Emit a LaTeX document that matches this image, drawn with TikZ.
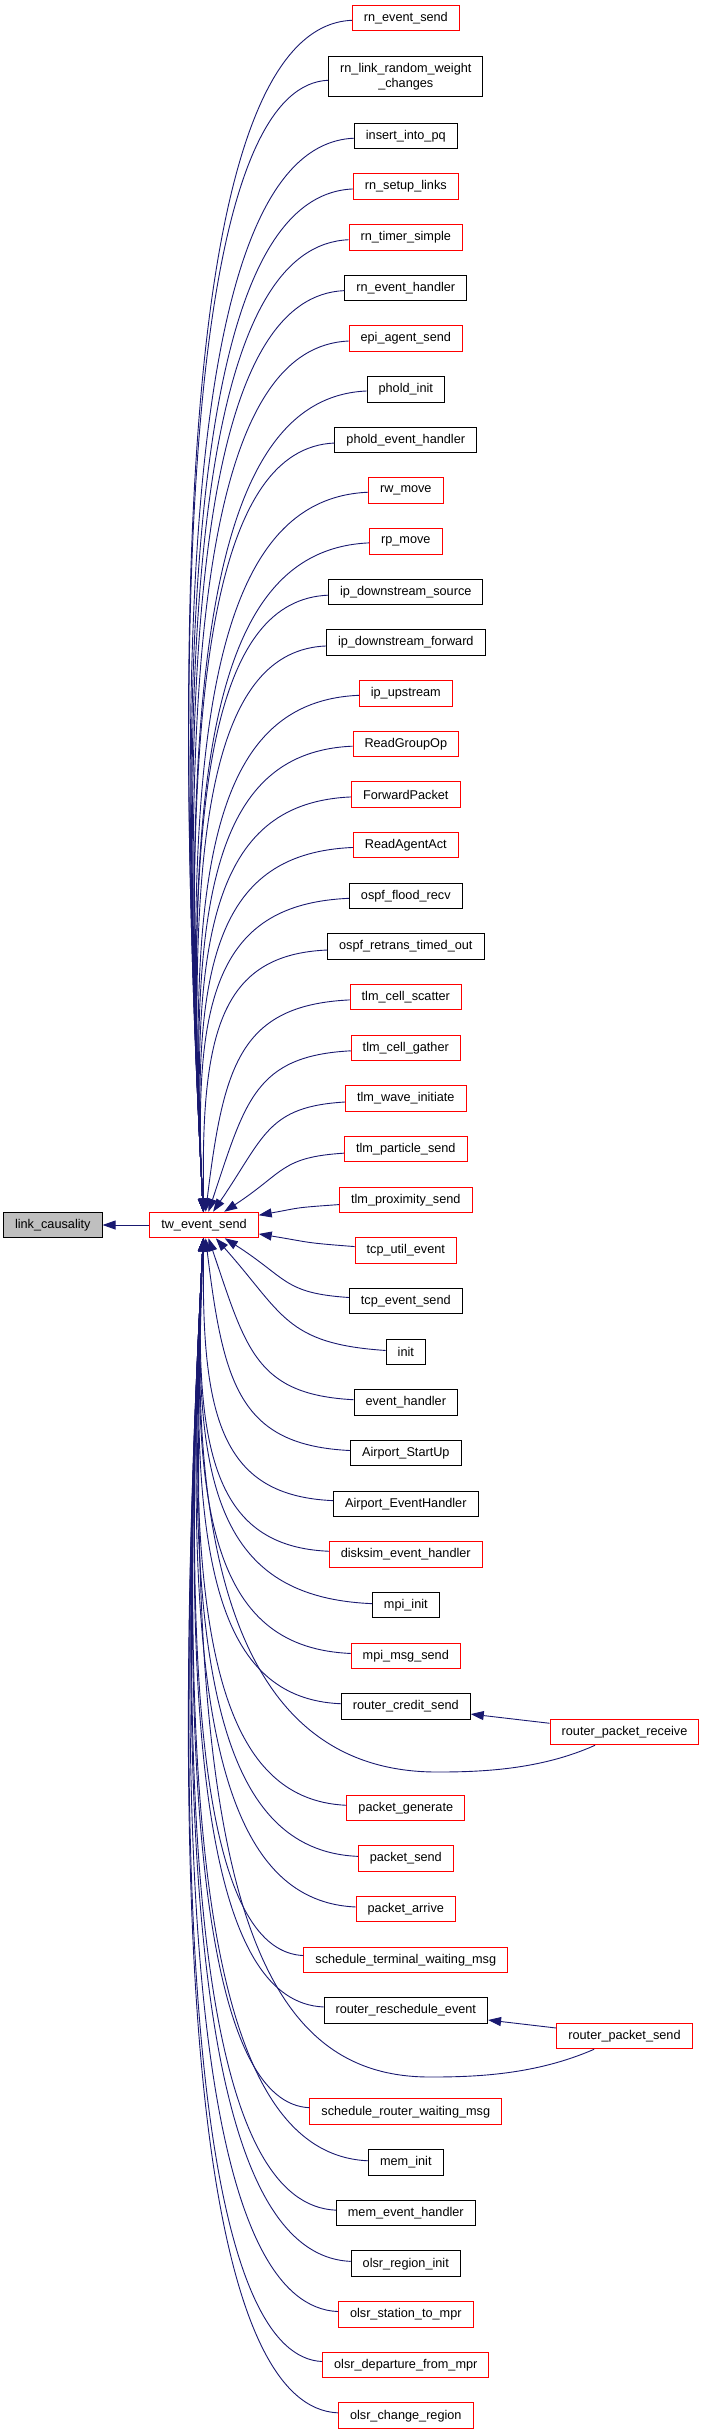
\documentclass[tikz,border=0pt]{standalone}
\usepackage{fontspec}
\setmainfont{Liberation Sans}
\usetikzlibrary{arrows.meta,calc}
\definecolor{edgeblue}{HTML}{191970}
\definecolor{boxred}{HTML}{FF0000}
\definecolor{boxgray}{HTML}{BFBFBF}
% caller -> tw_event_send, bent into the bundle above/below it
\newcommand{\callfan}[1]{%
  \draw[callarrow] let \p1=(#1.west), \p2=(tw.center),
    \n1={abs(\y1-\y2)}, \n2={sign(\y2-\y1)},
    \n3={0.3+0.6*min(1,\n1/300)}, \n4={0.8*max(0,1-\n1/300)},
    \n5={45*min(1,\n1/1200)} in
    (#1) .. controls ({\x1-\n3*(\x1-\x2)},{\y1+8*(\n2)})
    and ({\x2-\n5+\n4*(\x1-\x2)},{\y2-0.7*(\n2)*\n1}) .. (tw);}

\begin{document}
\begin{tikzpicture}[x=1pt,y=1pt,
  fn/.style={draw=black,line width=1pt,minimum height=25.5pt,inner xsep=11.5pt,
    inner ysep=2pt,font=\fontsize{12.7}{15}\selectfont},
  fnred/.style={fn,draw=boxred},
  callarrow/.style={draw=edgeblue,line width=0.9pt,-{Triangle[length=13pt,width=9pt]}}]
\useasboundingbox (0,0) rectangle (701,-2435);

\node[fn,fill=boxgray] (link) at (52.8,-1225) {link\_causality};
\node[fnred] (tw) at (204,-1225) {tw\_event\_send};

% callers of tw_event_send
\node[fnred] (rnsend) at (405.8,-18) {rn\_event\_send};
\node[fn,align=center,minimum height=40pt] (rnlink) at (405.8,-77) {rn\_link\_random\_weight\\\_changes};
\node[fn] (pq) at (405.8,-136) {insert\_into\_pq};
\node[fnred] (rnsetup) at (405.8,-186.7) {rn\_setup\_links};
\node[fnred] (rntimer) at (405.8,-237.3) {rn\_timer\_simple};
\node[fn] (rnhandler) at (405.8,-288) {rn\_event\_handler};
\node[fnred] (episend) at (405.8,-338.6) {epi\_agent\_send};
\node[fn] (pholdinit) at (405.8,-389.3) {phold\_init};
\node[fn] (pholdhandler) at (405.8,-440) {phold\_event\_handler};
\node[fnred] (rwmove) at (405.8,-490.6) {rw\_move};
\node[fnred] (rpmove) at (405.8,-541.3) {rp\_move};
\node[fn] (ipsource) at (405.8,-591.9) {ip\_downstream\_source};
\node[fn] (ipforward) at (405.8,-642.6) {ip\_downstream\_forward};
\node[fnred] (ipup) at (405.8,-693.3) {ip\_upstream};
\node[fnred] (readgroup) at (405.8,-743.9) {ReadGroupOp};
\node[fnred] (fwdpacket) at (405.8,-794.6) {ForwardPacket};
\node[fnred] (readagent) at (405.8,-845.2) {ReadAgentAct};
\node[fn] (ospfflood) at (405.8,-895.9) {ospf\_flood\_recv};
\node[fn] (ospfretrans) at (405.8,-946.6) {ospf\_retrans\_timed\_out};
\node[fnred] (tlmscatter) at (405.8,-997.2) {tlm\_cell\_scatter};
\node[fnred] (tlmgather) at (405.8,-1047.9) {tlm\_cell\_gather};
\node[fnred] (tlmwave) at (405.8,-1098.5) {tlm\_wave\_initiate};
\node[fnred] (tlmparticle) at (405.8,-1149.2) {tlm\_particle\_send};
\node[fnred] (tlmprox) at (405.8,-1199.9) {tlm\_proximity\_send};
\node[fnred] (tcputil) at (405.8,-1250.5) {tcp\_util\_event};
\node[fn] (tcpsend) at (405.8,-1301.2) {tcp\_event\_send};
\node[fn] (init) at (405.8,-1351.8) {init};
\node[fn] (evhandler) at (405.8,-1402.5) {event\_handler};
\node[fn] (airstart) at (405.8,-1453.2) {Airport\_StartUp};
\node[fn] (airhandler) at (405.8,-1503.8) {Airport\_EventHandler};
\node[fnred] (disksim) at (405.8,-1554.5) {disksim\_event\_handler};
\node[fn] (mpiinit) at (405.8,-1605.1) {mpi\_init};
\node[fnred] (mpimsg) at (405.8,-1655.8) {mpi\_msg\_send};
\node[fn] (credit) at (405.8,-1706.5) {router\_credit\_send};
\node[fnred] (pktgen) at (405.8,-1807.8) {packet\_generate};
\node[fnred] (pktsend) at (405.8,-1858.4) {packet\_send};
\node[fnred] (pktarrive) at (405.8,-1909.1) {packet\_arrive};
\node[fnred] (schedterm) at (405.8,-1959.8) {schedule\_terminal\_waiting\_msg};
\node[fn] (resched) at (405.8,-2010.4) {router\_reschedule\_event};
\node[fnred] (schedrouter) at (405.8,-2111.7) {schedule\_router\_waiting\_msg};
\node[fn] (meminit) at (405.8,-2162.4) {mem\_init};
\node[fn] (memhandler) at (405.8,-2213.1) {mem\_event\_handler};
\node[fn] (olsrinit) at (405.8,-2263.7) {olsr\_region\_init};
\node[fnred] (olsrstation) at (405.8,-2314.4) {olsr\_station\_to\_mpr};
\node[fnred] (olsrdepart) at (405.8,-2365) {olsr\_departure\_from\_mpr};
\node[fnred] (olsrchange) at (405.8,-2415.7) {olsr\_change\_region};

% second level callers
\node[fnred] (recv) at (624.5,-1732) {router\_packet\_receive};
\node[fnred] (rtsend) at (624.5,-2036) {router\_packet\_send};

\draw[callarrow] (tw) -- (link);
\foreach \c in {rnsend,rnlink,pq,rnsetup,rntimer,rnhandler,episend,pholdinit,
  pholdhandler,rwmove,rpmove,ipsource,ipforward,ipup,readgroup,fwdpacket,
  readagent,ospfflood,ospfretrans,tlmscatter,tlmgather,tlmwave,tlmparticle,
  tlmprox,tcputil,tcpsend,init,evhandler,airstart,airhandler,disksim,mpiinit,
  mpimsg,credit,pktgen,pktsend,pktarrive,schedterm,resched,schedrouter,
  meminit,memhandler,olsrinit,olsrstation,olsrdepart,olsrchange}
  {\callfan{\c}}

\coordinate (recvdip) at (437,-1772);
\coordinate (senddip) at (430,-2077);
\draw[callarrow] (recv) -- (credit);
\draw[callarrow] (recv) .. controls (540,-1770) and (480,-1772) .. (recvdip)
  .. controls (270,-1772) and (182,-1620) .. (tw);
\draw[callarrow] (rtsend) -- (resched);
\draw[callarrow] (rtsend) .. controls (535,-2075) and (475,-2077) .. (senddip)
  .. controls (260,-2077) and (178,-1900) .. (tw);
\end{tikzpicture}
\end{document}
